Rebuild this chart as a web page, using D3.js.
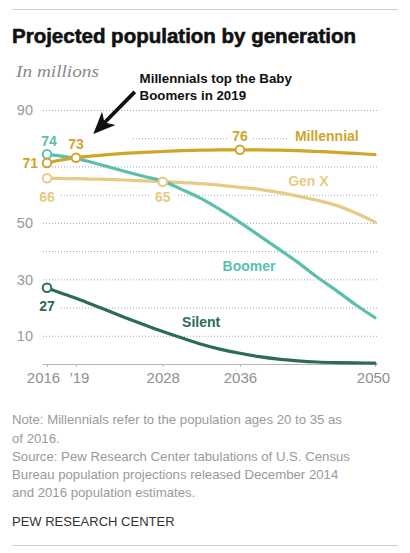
<!DOCTYPE html>
<html>
<head>
<meta charset="utf-8">
<script src="https://cdn.jsdelivr.net/npm/d3@7"></script>
<style>
  html, body { margin: 0; padding: 0; background: #fff; }
  svg { display: block; }
</style>
</head>
<body>
<svg id="chart" width="410" height="553"></svg>
<script>
// ---- Data (millions) ----
const years      = [2016, 2017, 2018, 2019, 2020, 2022, 2024, 2026, 2028, 2030, 2032, 2034, 2036, 2038, 2040, 2042, 2044, 2046, 2048, 2050];
const millennial = [71.2, 72.0, 72.6, 73.1, 73.5, 74.1, 74.6, 75.0, 75.3, 75.6, 75.8, 75.9, 75.9, 75.9, 75.8, 75.6, 75.3, 75.0, 74.6, 74.2];
const genX       = [65.8, 65.75, 65.7, 65.65, 65.6, 65.4, 65.2, 64.9, 64.6, 64.3, 63.9, 63.3, 62.6, 61.9, 60.8, 59.5, 58.0, 56.2, 53.5, 50.3];
const boomer     = [74.3, 73.9, 73.4, 72.8, 72.0, 70.2, 68.3, 66.5, 64.8, 61.8, 58.6, 54.6, 50.2, 45.5, 40.8, 36.0, 30.8, 26.0, 21.0, 16.4];
const silent     = [27.0, 25.7, 24.5, 23.3, 22.0, 19.3, 16.6, 14.0, 11.5, 9.2, 7.0, 5.2, 3.8, 2.6, 1.7, 1.1, 0.7, 0.5, 0.4, 0.3];

const seriesNames  = ["Millennial", "Gen X", "Boomer", "Silent"];
const seriesColors = ["#cfa52b", "#e6cb85", "#5cbfae", "#2d6b56"];

const xTickValues = [2016, 2019, 2028, 2036, 2050];
const xTickLabels = ["2016", "\u201919", "2028", "2036", "2050"];
const yGridValues = [10, 20, 30, 40, 50, 60, 70, 80, 90];
const yTickLabels = [10, 30, 50, 90];

// highlighted points: [series index, year, label]
const pointSeries = [2, 0, 0, 0, 1, 1, 3];
const pointYears  = [2016, 2016, 2019, 2036, 2016, 2028, 2016];
const pointLabels = ["74", "71", "73", "76", "66", "65", "27"];

// series name label anchors (year, value)
const nameYears  = [2041.7, 2041.0, 2034.2, 2030.0];
const nameValues = [79.0, 63.1, 33.0, 13.1];

// ---- Setup ----
const svg = d3.select("#chart");

const x = d3.scaleLinear().domain([2016, 2050]).range([47, 375]);
const y = d3.scaleLinear().domain([0, 90]).range([364, 110]);
const gridX0 = 43, gridX1 = 378;

const seriesValues = [millennial, genX, boomer, silent];

// top & bottom rules
svg.append("line").attr("x1", 12).attr("x2", 398).attr("y1", 9.5).attr("y2", 9.5)
  .attr("stroke", "#cfcfcf").attr("stroke-width", 1);
svg.append("line").attr("x1", 12).attr("x2", 398).attr("y1", 545.5).attr("y2", 545.5)
  .attr("stroke", "#cfcfcf").attr("stroke-width", 1);

// title
svg.append("text").attr("x", 12).attr("y", 43)
  .attr("font-family", "'Liberation Sans', Arial, sans-serif")
  .attr("font-weight", "bold").attr("font-size", 21).attr("fill", "#111")
  .attr("stroke", "#111").attr("stroke-width", 0.6)
  .attr("textLength", 344).attr("lengthAdjust", "spacingAndGlyphs")
  .text("Projected population by generation");

// subtitle
svg.append("text").attr("x", 16).attr("y", 77)
  .attr("font-family", "'Liberation Serif', 'DejaVu Serif', serif")
  .attr("font-style", "italic").attr("font-size", 17).attr("fill", "#8a8a8a")
  .attr("textLength", 83).attr("lengthAdjust", "spacingAndGlyphs")
  .text("In millions");

// gridlines + y labels
const yAxis = d3.axisLeft(y).tickValues(yGridValues)
  .tickSize(-(gridX1 - gridX0)).tickPadding(10)
  .tickFormat(d => yTickLabels.includes(d) ? String(d) : "");
const gy = svg.append("g").attr("transform", `translate(${gridX0},0)`).call(yAxis);
gy.select(".domain").remove();
gy.selectAll(".tick line").attr("stroke", "#a9a9a9").attr("stroke-width", 1)
  .attr("stroke-dasharray", "1,2");
gy.selectAll(".tick text").attr("font-family", "'Liberation Sans', Arial, sans-serif")
  .attr("font-size", 14.5).attr("fill", "#999").attr("dy", "0.34em");

// x axis
const xAxis = d3.axisBottom(x).tickValues(xTickValues).tickSize(3).tickPadding(5)
  .tickFormat((d, i) => xTickLabels[i]);
const gx = svg.append("g").attr("transform", `translate(0,${y(0)})`).call(xAxis);
gx.select(".domain").attr("d", `M${gridX0},0.5H${gridX1}`).attr("stroke", "#b5b5b5");
gx.selectAll(".tick line").attr("stroke", "#b5b5b5");
gx.selectAll(".tick text").attr("font-family", "'Liberation Sans', Arial, sans-serif")
  .attr("font-size", 15).attr("fill", "#8f8f8f")
  .attr("dx", (d, i) => i === 0 ? -4 : (i === 1 ? 3 : (i === 4 ? -2 : 0)));

// layers
const bgLayer = svg.append("g");
const lineLayer = svg.append("g");
const pointLayer = svg.append("g");
const labelLayer = svg.append("g");

const labelFont = "'Liberation Sans', Arial, sans-serif";

function addLabel(txt, px, py, anchor, color, padL, padR) {
  const t = labelLayer.append("text").attr("x", px).attr("y", py)
    .attr("text-anchor", anchor).attr("font-family", labelFont)
    .attr("font-weight", "bold").attr("font-size", 14).attr("fill", color).text(txt);
  const b = t.node().getBBox();
  bgLayer.append("rect").attr("x", b.x - padL).attr("y", b.y)
    .attr("width", b.width + padL + padR).attr("height", b.height).attr("fill", "#fff");
}

// lines
const line = d3.line().x((d, i) => x(years[i])).y(d => y(d)).curve(d3.curveMonotoneX);
[3, 1, 2, 0].forEach(si => {
  lineLayer.append("path").datum(seriesValues[si]).attr("d", line)
    .attr("fill", "none").attr("stroke", seriesColors[si])
    .attr("stroke-width", 3.2).attr("stroke-linecap", "round").attr("stroke-linejoin", "round");
});

// points + value labels
const labelOffsets = [[2, -8, "middle"], [-9, 5, "end"], [0, -9, "middle"], [0, -9, "middle"],
                      [0, 24, "middle"], [0, 20, "middle"], [0, 23, "middle"]];
pointSeries.forEach((si, k) => {
  const yr = pointYears[k];
  const v = seriesValues[si][years.indexOf(yr)];
  const px = x(yr), py = y(v);
  pointLayer.append("circle").attr("cx", px).attr("cy", py).attr("r", 4.3)
    .attr("fill", "#fff").attr("stroke", seriesColors[si]).attr("stroke-width", 2);
  const o = labelOffsets[k];
  addLabel(pointLabels[k], px + o[0], py + o[1], o[2], seriesColors[si], 5, 5);
});

// series names
seriesNames.forEach((n, i) => {
  addLabel(n, x(nameYears[i]), y(nameValues[i]), "start", seriesColors[i], 8, i === 0 ? 20 : 6);
});

// annotation
const annYear = 2025.6, annValue = 99.7;
const ann = labelLayer.append("text").attr("x", x(annYear)).attr("y", y(annValue))
  .attr("font-family", labelFont).attr("font-weight", "bold").attr("font-size", 13.3)
  .attr("fill", "#111")
  .style("paint-order", "stroke").attr("stroke", "#fff").attr("stroke-width", 3);
ann.append("tspan").attr("x", x(annYear)).attr("dy", 0).text("Millennials top the Baby");
ann.append("tspan").attr("x", x(annYear)).attr("dy", 17.5).text("Boomers in 2019");

// arrow
const aStart = [x(2025.1), y(96.4)];
const aTip = [x(2020.8), y(81.5)];
const dx = aTip[0] - aStart[0], dy = aTip[1] - aStart[1];
const len = Math.hypot(dx, dy);
const ux = dx / len, uy = dy / len, vx = -uy, vy = ux;
const headL = 22, headW = 9.5, notch = 6;
const base = [aTip[0] - ux * headL, aTip[1] - uy * headL];
const notchPt = [aTip[0] - ux * (headL - notch), aTip[1] - uy * (headL - notch)];
bgLayer.append("rect").attr("x", Math.min(aTip[0], aStart[0]) - 6)
  .attr("y", y(80) - 3).attr("width", 45).attr("height", 6).attr("fill", "#fff");
labelLayer.append("line").attr("x1", aStart[0]).attr("y1", aStart[1])
  .attr("x2", notchPt[0] + ux * 2).attr("y2", notchPt[1] + uy * 2)
  .attr("stroke", "#111").attr("stroke-width", 3.8);
labelLayer.append("path")
  .attr("d", `M${aTip[0]},${aTip[1]}L${base[0] + vx * headW},${base[1] + vy * headW}L${notchPt[0]},${notchPt[1]}L${base[0] - vx * headW},${base[1] - vy * headW}Z`)
  .attr("fill", "#111");

// notes
const noteLines = [
  "Note: Millennials refer to the population ages 20 to 35 as",
  "of 2016.",
  "Source: Pew Research Center tabulations of U.S. Census",
  "Bureau population projections released December 2014",
  "and 2016 population estimates."
];
const note = svg.append("text").attr("font-family", labelFont).attr("font-size", 13.2)
  .attr("fill", "#9a9a9a");
noteLines.forEach((l, i) => {
  note.append("tspan").attr("x", 12).attr("y", 424.3 + i * 18.25).text(l);
});

svg.append("text").attr("x", 12).attr("y", 525.7).attr("font-family", labelFont)
  .attr("font-size", 13).attr("fill", "#333").text("PEW RESEARCH CENTER");
</script>
</body>
</html>
